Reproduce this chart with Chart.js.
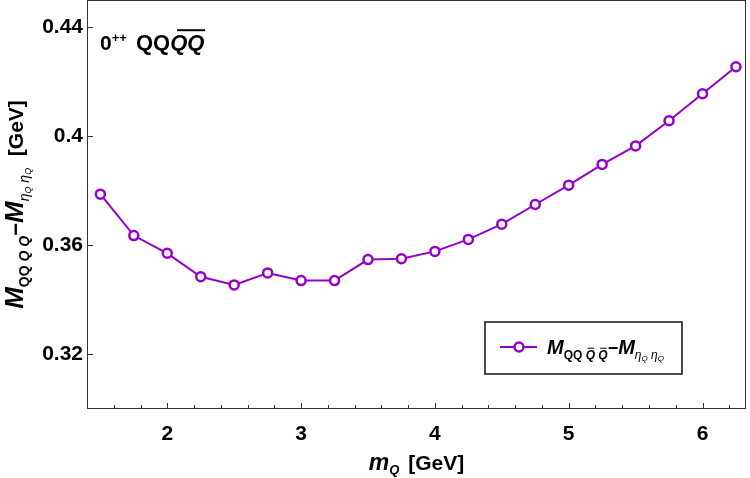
<!DOCTYPE html>
<html>
<head>
<meta charset="utf-8">
<script src="https://cdn.jsdelivr.net/npm/chart.js@4.4.0/dist/chart.umd.min.js"></script>
<style>
  html, body { margin: 0; padding: 0; background: #fff; }
  #wrap { width: 750px; height: 478px; }
</style>
</head>
<body>
<div id="wrap"><canvas id="chart" width="750" height="478"></canvas></div>
<script>
// heavy quark mass m_Q [GeV]
const massQ = [1.5, 1.75, 2.0, 2.25, 2.5, 2.75, 3.0, 3.25, 3.5, 3.75,
               4.0, 4.25, 4.5, 4.75, 5.0, 5.25, 5.5, 5.75, 6.0, 6.25];
// M(QQ Qbar Qbar) - M(eta_Q eta_Q) [GeV]
const deltaM = [0.3788, 0.3636, 0.3571, 0.3485, 0.3455, 0.3499, 0.3471, 0.3471, 0.3548, 0.3551,
                0.3578, 0.3622, 0.3678, 0.3750, 0.3821, 0.3897, 0.3965, 0.4057, 0.4156, 0.4255];
const xTicks = [2, 3, 4, 5, 6];
const xTickLabels = ['2', '3', '4', '5', '6'];
const yTicks = [0.32, 0.36, 0.40, 0.44];
const yTickLabels = ['0.32', '0.36', '0.4', '0.44'];

const FONT = '"Liberation Sans", Arial, sans-serif';
const PURPLE = '#9500c8';

// draws a run of text pieces with their own font/offset (for sub/superscripts)
function drawRich(ctx, parts, x, y, align) {
  let total = 0;
  parts.forEach(p => {
    ctx.font = `${p.style} ${p.size}px ${FONT}`;
    p.w = ctx.measureText(p.t).width;
    total += p.w + (p.kern || 0);
  });
  let cx = align === 'center' ? x - total / 2 : x;
  parts.forEach(p => {
    ctx.font = `${p.style} ${p.size}px ${FONT}`;
    const by = y + (p.dy || 0);
    ctx.fillText(p.t, cx, by);
    if (p.bar) {
      ctx.save();
      ctx.lineWidth = p.size > 15 ? 2 : 1;
      ctx.beginPath();
      ctx.moveTo(cx + p.w * 0.2, by - p.size * 0.9);
      ctx.lineTo(cx + p.w * (p.size > 15 ? 1.02 : 0.9), by - p.size * 0.9);
      ctx.stroke();
      ctx.restore();
    }
    cx += p.w + (p.kern || 0);
  });
}

const yTitle = [
  { t: 'M', size: 26, style: 'italic bold' },
  { t: 'QQ', size: 14, style: 'bold', dy: 6 },
  { t: ' Q', size: 14, style: 'italic bold', dy: 6 },
  { t: ' Q', size: 14, style: 'italic bold', dy: 6 },
  { t: '\u2212', size: 22, style: 'bold' },
  { t: 'M', size: 26, style: 'italic bold' },
  { t: '\u03b7', size: 14, style: 'italic', dy: 6 },
  { t: 'Q', size: 9, style: 'italic', dy: 8 },
  { t: ' \u03b7', size: 14, style: 'italic', dy: 6 },
  { t: 'Q', size: 9, style: 'italic', dy: 8 },
  { t: '  [GeV]', size: 21, style: 'bold' }
];
const xTitle = [
  { t: 'm', size: 23, style: 'italic bold' },
  { t: 'Q', size: 13, style: 'italic bold', dy: 4, kern: 3 },
  { t: ' [GeV]', size: 21, style: 'bold' }
];
const panelTitle = [
  { t: '0', size: 21, style: 'bold' },
  { t: '++', size: 13, style: 'bold', dy: -8, kern: 3 },
  { t: ' QQ', size: 22, style: 'bold' },
  { t: 'QQ', size: 22, style: 'italic bold', bar: true }
];
const legendText = [
  { t: 'M', size: 20, style: 'italic bold' },
  { t: 'QQ ', size: 12, style: 'bold', dy: 5 },
  { t: 'Q', size: 12, style: 'italic bold', dy: 5, bar: true },
  { t: ' ', size: 12, style: 'bold', dy: 5 },
  { t: 'Q', size: 12, style: 'italic bold', dy: 5, bar: true },
  { t: '\u2212', size: 18, style: 'bold' },
  { t: 'M', size: 20, style: 'italic bold' },
  { t: '\u03b7', size: 12, style: 'italic', dy: 5 },
  { t: 'Q', size: 8, style: 'italic', dy: 7 },
  { t: ' \u03b7', size: 12, style: 'italic', dy: 5 },
  { t: 'Q', size: 8, style: 'italic', dy: 7 }
];

const framePlugin = {
  id: 'frame',
  afterDraw(chart) {
    const ctx = chart.ctx;
    const a = chart.chartArea;
    const xs = chart.scales.x, ys = chart.scales.y;
    ctx.save();
    // frame
    ctx.strokeStyle = '#333';
    ctx.lineWidth = 1;
    ctx.strokeRect(a.left + 0.5, a.top + 0.5, a.right - a.left - 1, a.bottom - a.top - 1);
    // inward ticks
    ctx.beginPath();
    for (let v = 1.4; v <= xs.max + 1e-9; v += 0.2) {
      const px = Math.round(xs.getPixelForValue(v)) + 0.5;
      const major = xTicks.some(t => Math.abs(t - v) < 1e-6);
      ctx.moveTo(px, a.bottom);
      ctx.lineTo(px, a.bottom - (major ? 6 : 4));
    }
    yTicks.forEach(v => {
      const py = Math.round(ys.getPixelForValue(v)) + 0.5;
      ctx.moveTo(a.left, py);
      ctx.lineTo(a.left + 6, py);
    });
    ctx.stroke();

    ctx.fillStyle = '#000';
    ctx.strokeStyle = '#000';
    ctx.textBaseline = 'alphabetic';
    // panel label
    drawRich(ctx, panelTitle, 100, 50, 'left');
    // x title
    drawRich(ctx, xTitle, (a.left + a.right) / 2, 470, 'center');
    // y title
    ctx.save();
    ctx.translate(23, (a.top + a.bottom) / 2);
    ctx.rotate(-Math.PI / 2);
    drawRich(ctx, yTitle, 0, 0, 'center');
    ctx.restore();

    // legend
    const lx = 485, ly = 322, lw = 197, lh = 52;
    ctx.fillStyle = '#fff';
    ctx.fillRect(lx, ly, lw, lh);
    ctx.strokeStyle = '#111';
    ctx.lineWidth = 1.5;
    ctx.strokeRect(lx, ly, lw, lh);
    const ds = chart.data.datasets[0];
    const my = ly + 25;
    ctx.strokeStyle = ds.borderColor;
    ctx.lineWidth = ds.borderWidth;
    ctx.beginPath();
    ctx.moveTo(500, my);
    ctx.lineTo(537, my);
    ctx.stroke();
    ctx.beginPath();
    ctx.arc(519, my, ds.pointRadius, 0, Math.PI * 2);
    ctx.fillStyle = ds.pointBackgroundColor;
    ctx.fill();
    ctx.lineWidth = ds.pointBorderWidth;
    ctx.stroke();
    ctx.fillStyle = '#000';
    ctx.strokeStyle = '#000';
    drawRich(ctx, legendText, 547, my + 7, 'left');
    ctx.restore();
  }
};

new Chart(document.getElementById('chart'), {
  type: 'line',
  data: {
    datasets: [{
      label: 'M_QQQQ - M_etaeta',
      data: massQ.map((m, i) => ({ x: m, y: deltaM[i] })),
      borderColor: PURPLE,
      borderWidth: 2,
      pointRadius: 4.5,
      pointBorderWidth: 2.5,
      pointBackgroundColor: '#fff',
      pointBorderColor: PURPLE,
      tension: 0
    }]
  },
  options: {
    responsive: false,
    animation: false,
    devicePixelRatio: 1,
    layout: { autoPadding: false, padding: { top: 0, right: 4, left: 0, bottom: 0 } },
    plugins: { legend: { display: false }, tooltip: { enabled: false } },
    scales: {
      x: {
        type: 'linear',
        min: 1.4,
        max: 6.325,
        afterBuildTicks: s => { s.ticks = xTicks.map(v => ({ value: v })); },
        afterFit: s => { s.height = 69; s.paddingLeft = 0; s.paddingRight = 0; },
        grid: { display: false, drawTicks: false },
        border: { display: false },
        ticks: {
          color: '#000',
          padding: 13,
          maxRotation: 0,
          font: { family: FONT, size: 21, weight: 'bold' },
          callback: v => xTickLabels[xTicks.indexOf(v)]
        }
      },
      y: {
        type: 'linear',
        min: 0.30,
        max: 0.45,
        afterBuildTicks: s => { s.ticks = yTicks.map(v => ({ value: v })); },
        afterFit: s => { s.width = 87; s.paddingTop = 0; s.paddingBottom = 0; },
        grid: { display: false, drawTicks: false },
        border: { display: false },
        ticks: {
          color: '#000',
          padding: 4,
          font: { family: FONT, size: 21, weight: 'bold' },
          callback: v => yTickLabels[yTicks.findIndex(t => Math.abs(t - v) < 1e-9)]
        }
      }
    }
  },
  plugins: [framePlugin]
});
</script>
</body>
</html>
